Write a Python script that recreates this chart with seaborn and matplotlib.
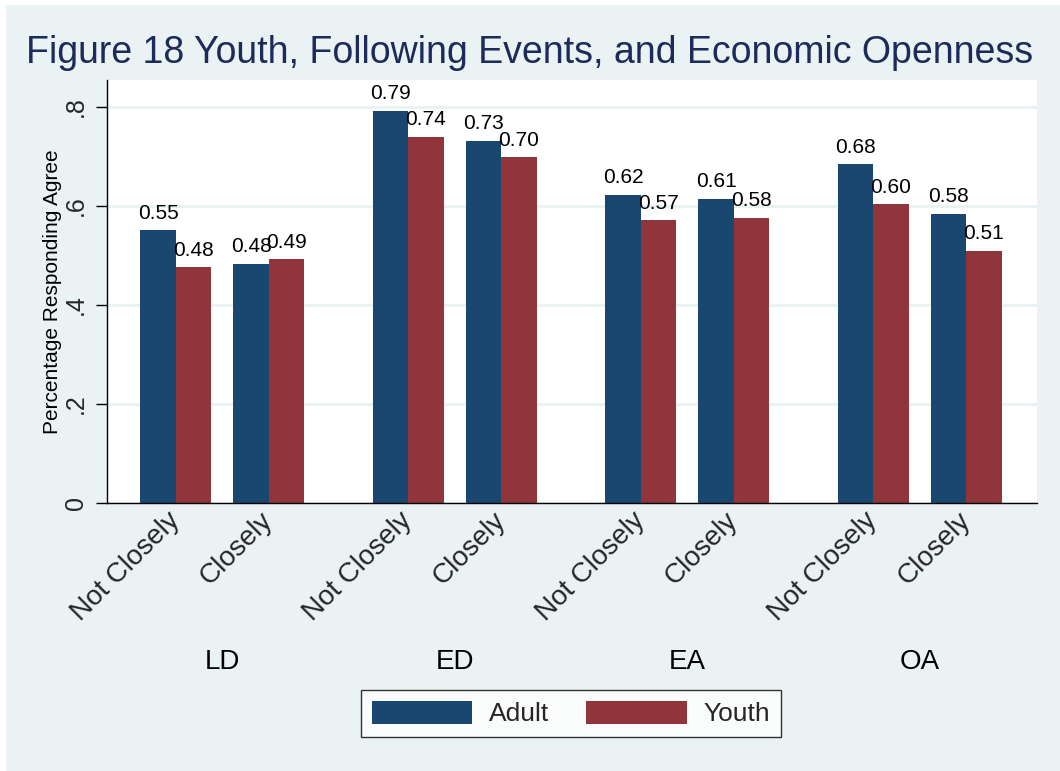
import numpy as np
import pandas as pd
import matplotlib
matplotlib.use("Agg")
import matplotlib.pyplot as plt
from matplotlib.patches import Patch, Rectangle
import matplotlib.transforms as mtransforms
import seaborn as sns

# ---- data ----
groups = ["LD", "ED", "EA", "OA"]
follow = ["Not Closely", "Closely"]
adult = [0.551, 0.483, 0.792, 0.732, 0.622, 0.614, 0.684, 0.584]
youth = [0.476, 0.492, 0.740, 0.698, 0.571, 0.576, 0.603, 0.509]
series = ["Adult", "Youth"]
title = "Figure 18 Youth, Following Events, and Economic Openness"
ylabel = "Percentage Responding Agree"
yticks = [0, 0.2, 0.4, 0.6, 0.8]
yticklabels = ["0", ".2", ".4", ".6", ".8"]

# positions: two bars per group, gap between groups
pos = []
for g in range(len(groups)):
    for j in range(len(follow)):
        pos.append(g * 2.5 + j)
ticklabels = follow * len(groups)

df = pd.DataFrame({
    "pos": pos * 2,
    "value": adult + youth,
    "series": ["Adult"] * len(adult) + ["Youth"] * len(youth),
})

NAVY = "#1A476F"
MAROON = "#90353B"
BG = "#EAF2F3"

sns.set_theme(style="white")
plt.rcParams["font.family"] = ["Liberation Sans", "DejaVu Sans"]

fig = plt.figure(figsize=(10.6, 7.71), dpi=100, facecolor="white")
fig.patches.append(Rectangle((6 / 1060, 0), 1, (771 - 5) / 771, transform=fig.transFigure,
                             facecolor=BG, edgecolor="none", zorder=-10))
ax = fig.add_axes([107 / 1060, (771 - 503) / 771, (1037 - 107) / 1060, (503 - 80) / 771])
ax.set_facecolor("white")

sns.barplot(data=df, x="pos", y="value", hue="series", hue_order=series,
            native_scale=True, width=0.76, palette=[NAVY, MAROON],
            saturation=1, linewidth=0, ax=ax, legend=False, errorbar=None)

for cont in ax.containers:
    ax.bar_label(cont, fmt="%.2f", padding=5.5, fontsize=15, color="black")

ax.set_xlim(-0.74, 9.26)
ax.set_ylim(0, 0.8545)
ax.set_yticks(yticks)
ax.set_yticklabels(yticklabels, rotation=90, va="center", fontsize=18)
ax.set_xticks(pos)
ax.set_xticklabels(ticklabels, rotation=45, ha="right", va="center",
                   rotation_mode="anchor", fontsize=20)
ax.tick_params(axis="x", length=0, pad=10)
ax.tick_params(axis="y", length=8, width=1, color="black", pad=6, left=True)
ax.yaxis.grid(True, color=BG, linewidth=2.2)
ax.set_axisbelow(True)
for s in ["top", "right"]:
    ax.spines[s].set_visible(False)
for s in ["left", "bottom"]:
    ax.spines[s].set_color("black")
    ax.spines[s].set_linewidth(1)

ax.set_xlabel("")
ax.set_ylabel(ylabel, fontsize=15, color="black")
ax.yaxis.set_label_coords(-0.0484, 0.5)

trans = mtransforms.blended_transform_factory(ax.transData, ax.transAxes)
for g, name in enumerate(groups):
    ax.text(g * 2.5 + 0.5, (503 - 662) / 423, name, transform=trans, ha="center",
            va="center", fontsize=20, color="black")

fig.text(0.5, (771 - 63) / 771, title, ha="center", va="baseline", fontsize=27,
         color="#1C2B5A")

handles = [Patch(facecolor=NAVY, edgecolor="none"), Patch(facecolor=MAROON, edgecolor="none")]
leg = fig.legend(handles, series, loc="center", bbox_to_anchor=(571 / 1060, (771 - 713.5) / 771),
                 ncol=2, fontsize=19, frameon=True, fancybox=False, handlelength=3.8,
                 handleheight=1.0, handletextpad=0.64, columnspacing=1.4, borderpad=0.4)
leg.get_frame().set_edgecolor("black")
leg.get_frame().set_linewidth(1)
leg.get_frame().set_facecolor("white")

fig.savefig("out.png", dpi=100, facecolor=fig.get_facecolor())
